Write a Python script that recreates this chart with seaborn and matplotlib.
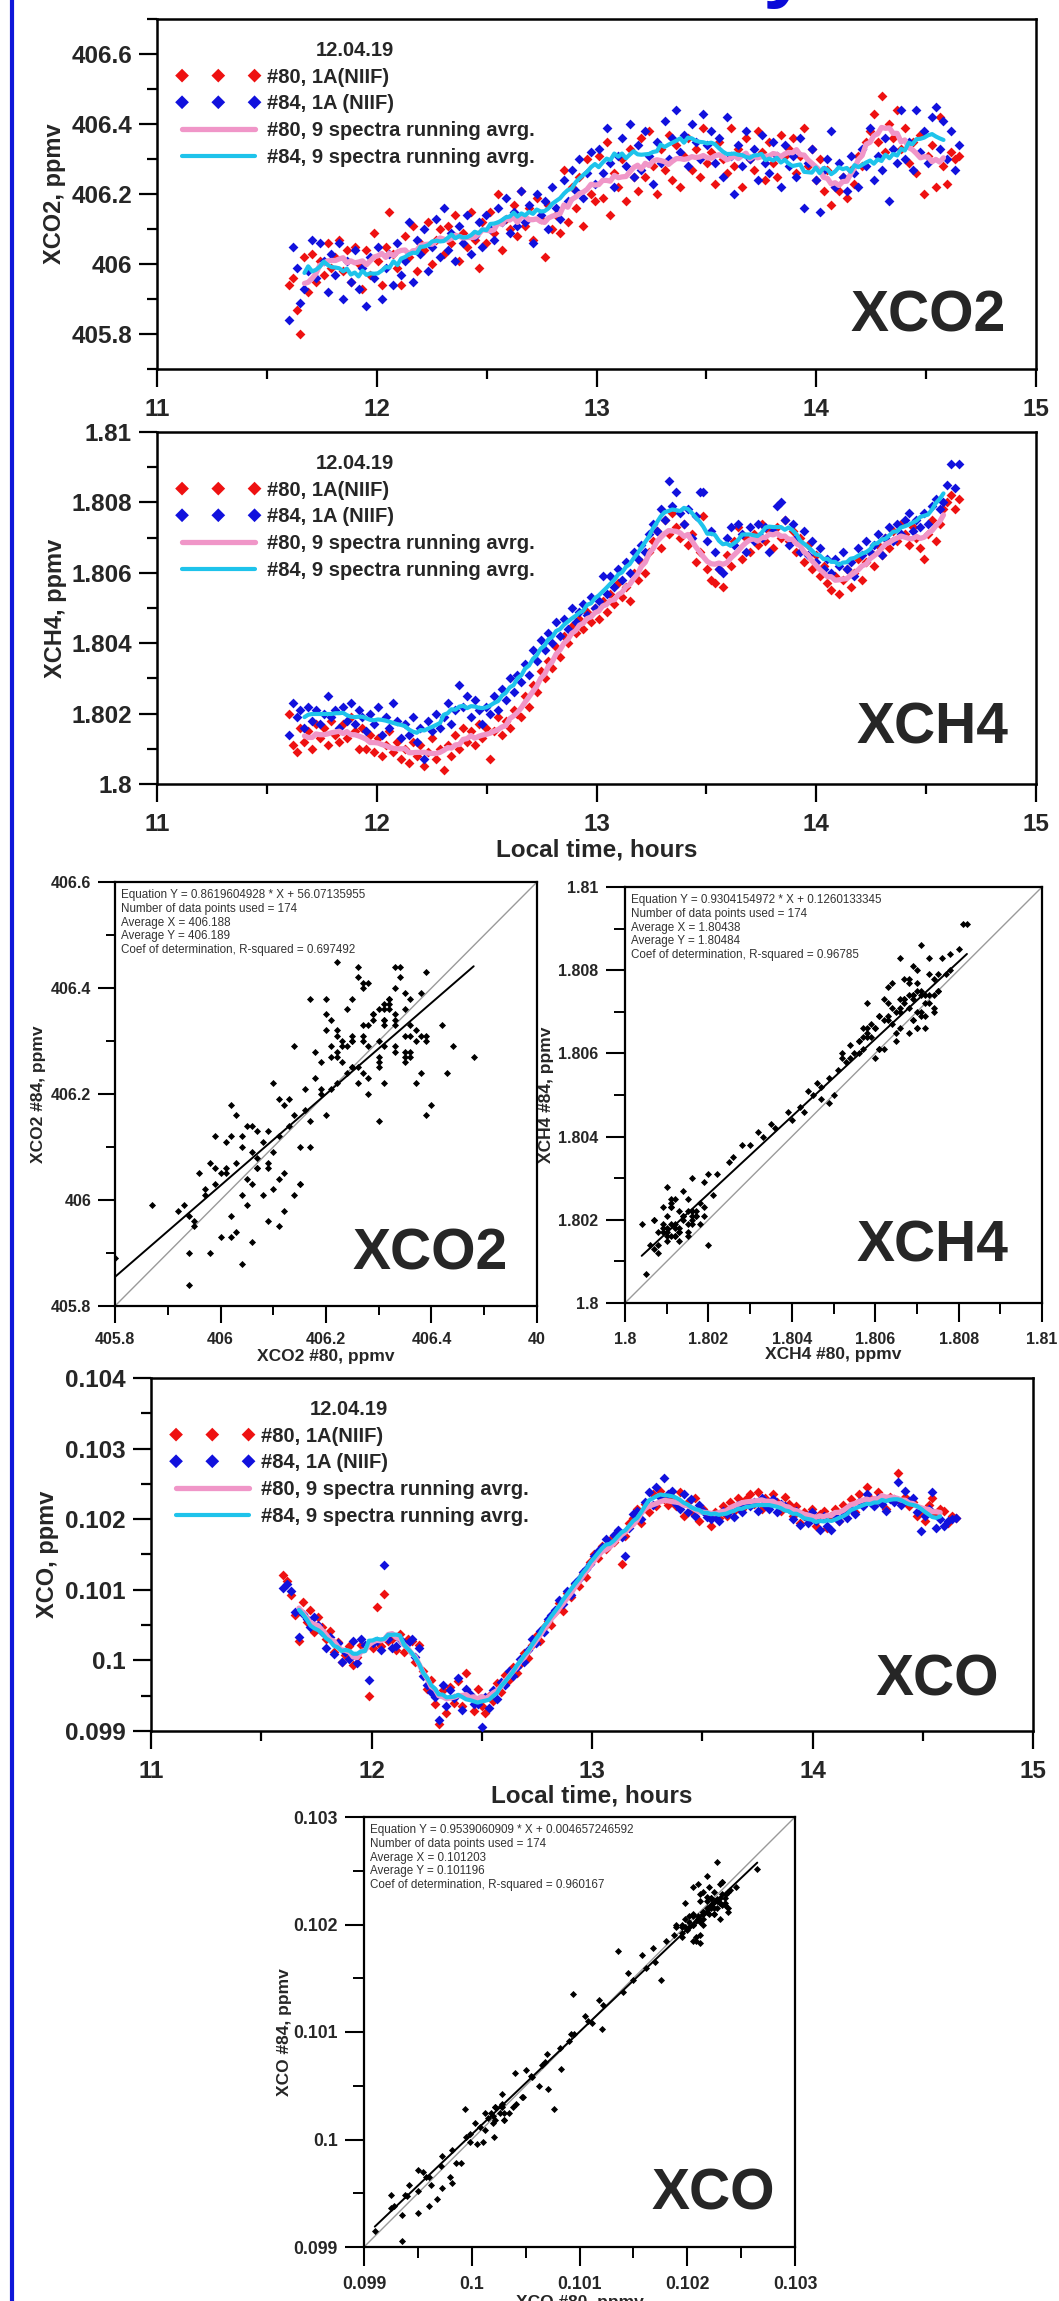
import numpy as np
import pandas as pd
import matplotlib
matplotlib.use("Agg")
import matplotlib.pyplot as plt
from matplotlib.ticker import MultipleLocator
import seaborn as sns

# measurement times (local time, hours), 174 spectra
TIME = [
    11.600, 11.618, 11.635, 11.653, 11.671, 11.688, 11.706, 11.723, 11.741, 11.759,
    11.776, 11.794, 11.812, 11.829, 11.847, 11.864, 11.882, 11.900, 11.917, 11.935,
    11.953, 11.970, 11.988, 12.005, 12.023, 12.041, 12.058, 12.076, 12.094, 12.111,
    12.129, 12.147, 12.164, 12.182, 12.199, 12.217, 12.235, 12.252, 12.270, 12.288,
    12.305, 12.323, 12.340, 12.358, 12.376, 12.393, 12.411, 12.429, 12.446, 12.464,
    12.481, 12.499, 12.517, 12.534, 12.552, 12.570, 12.587, 12.605, 12.623, 12.640,
    12.658, 12.675, 12.693, 12.711, 12.728, 12.746, 12.764, 12.781, 12.799, 12.816,
    12.834, 12.852, 12.869, 12.887, 12.905, 12.922, 12.940, 12.957, 12.975, 12.993,
    13.010, 13.028, 13.046, 13.063, 13.081, 13.099, 13.116, 13.134, 13.151, 13.169,
    13.187, 13.204, 13.222, 13.240, 13.257, 13.275, 13.292, 13.310, 13.328, 13.345,
    13.363, 13.381, 13.398, 13.416, 13.434, 13.451, 13.469, 13.486, 13.504, 13.522,
    13.539, 13.557, 13.575, 13.592, 13.610, 13.627, 13.645, 13.663, 13.680, 13.698,
    13.716, 13.733, 13.751, 13.769, 13.786, 13.804, 13.821, 13.839, 13.857, 13.874,
    13.892, 13.910, 13.927, 13.945, 13.962, 13.980, 13.998, 14.015, 14.033, 14.051,
    14.068, 14.086, 14.103, 14.121, 14.139, 14.156, 14.174, 14.192, 14.209, 14.227,
    14.245, 14.262, 14.280, 14.297, 14.315, 14.333, 14.350, 14.368, 14.386, 14.403,
    14.421, 14.438, 14.456, 14.474, 14.491, 14.509, 14.527, 14.544, 14.562, 14.579,
    14.597, 14.615, 14.632, 14.650,
]

XCO2_80 = [
    405.94, 405.96, 405.87, 405.80, 406.02, 405.92, 406.03, 405.95, 406.01, 405.97,
    406.06, 405.99, 406.02, 406.07, 405.98, 406.04, 405.95, 406.05, 406.00, 405.93,
    406.04, 405.97, 406.09, 406.01, 405.94, 406.05, 406.15, 406.03, 405.99, 405.94,
    406.08, 406.02, 406.11, 405.98, 406.06, 406.04, 406.12, 406.00, 406.07, 406.10,
    406.03, 406.11, 406.06, 406.14, 406.01, 406.09, 406.05, 406.15, 406.07, 405.99,
    406.12, 406.06, 406.15, 406.09, 406.20, 406.04, 406.13, 406.10, 406.17, 406.08,
    406.21, 406.11, 406.16, 406.07, 406.19, 406.13, 406.02, 406.17, 406.10, 406.14,
    406.09, 406.27, 406.12, 406.22, 406.16, 406.25, 406.11, 406.30, 406.20, 406.18,
    406.31, 406.19, 406.35, 406.14, 406.26, 406.22, 406.30, 406.18, 406.33, 406.25,
    406.21, 406.36, 406.25, 406.38, 406.28, 406.20, 406.33, 406.27, 406.37, 406.24,
    406.34, 406.22, 406.31, 406.36, 406.27, 406.33, 406.25, 406.39, 406.29, 406.32,
    406.23, 406.35, 406.30, 406.26, 406.39, 406.28, 406.33, 406.22, 406.36, 406.30,
    406.27, 406.38, 406.32, 406.24, 406.35, 406.29, 406.25, 406.37, 406.31, 406.33,
    406.36, 406.26, 406.31, 406.39, 406.28, 406.33, 406.24, 406.30, 406.21, 406.27,
    406.17, 406.22, 406.21, 406.25, 406.19, 406.27, 406.23, 406.31, 406.28, 406.35,
    406.38, 406.43, 406.35, 406.48, 406.32, 406.40, 406.36, 406.44, 406.33, 406.39,
    406.29, 406.35, 406.26, 406.37, 406.20, 406.31, 406.34, 406.22, 406.42, 406.28,
    406.23, 406.32, 406.30, 406.31,
]

XCO2_84 = [
    405.84, 406.05, 405.99, 405.89, 405.93, 405.98, 406.07, 405.96, 406.06, 406.01,
    405.92, 406.03, 405.97, 406.06, 405.90, 406.01, 405.95, 406.04, 405.93, 405.99,
    405.88, 406.02, 405.96, 406.05, 405.90, 405.99, 406.03, 405.94, 406.06, 405.97,
    406.01, 406.12, 405.95, 406.07, 406.03, 406.10, 405.98, 406.05, 406.13, 406.02,
    406.16, 406.04, 406.09, 406.01, 406.11, 406.06, 406.14, 406.03, 406.08, 406.12,
    406.05, 406.14, 406.10, 406.07, 406.16, 406.12, 406.19, 406.09, 406.15, 406.11,
    406.21, 406.12, 406.17, 406.06, 406.20, 406.14, 406.18, 406.10, 406.22, 406.16,
    406.13, 406.24, 406.18, 406.27, 406.21, 406.30, 406.19, 406.26, 406.32, 406.23,
    406.33, 406.26, 406.39, 406.29, 406.22, 406.31, 406.36, 406.28, 406.40, 406.25,
    406.34, 406.27, 406.38, 406.31, 406.23, 406.35, 406.29, 406.41, 406.30, 406.36,
    406.44, 406.32, 406.37, 406.28, 406.40, 406.35, 406.30, 406.43, 406.34, 406.38,
    406.29, 406.36, 406.25, 406.42, 406.31, 406.20, 406.34, 406.28, 406.38, 406.30,
    406.33, 406.24, 406.37, 406.29, 406.26, 406.35, 406.31, 406.22, 406.34, 406.28,
    406.31, 406.25, 406.36, 406.16, 406.29, 406.33, 406.24, 406.15, 406.27, 406.30,
    406.38, 406.22, 406.29, 406.25, 406.21, 406.31, 406.26, 406.22, 406.33, 406.28,
    406.39, 406.24, 406.31, 406.27, 406.36, 406.18, 406.33, 406.29, 406.44, 406.30,
    406.35, 406.27, 406.44, 406.32, 406.38, 406.29, 406.42, 406.45, 406.33, 406.41,
    406.30, 406.38, 406.27, 406.34,
]

XCH4_80 = [
    1.8020, 1.8011, 1.8009, 1.8016, 1.8012, 1.8015, 1.8010, 1.8017, 1.8013, 1.8016,
    1.8011, 1.8018, 1.8014, 1.8012, 1.8017, 1.8013, 1.8019, 1.8015, 1.8010, 1.8016,
    1.8010, 1.8014, 1.8009, 1.8013, 1.8008, 1.8011, 1.8015, 1.8009, 1.8012, 1.8007,
    1.8010, 1.8006, 1.8012, 1.8008, 1.8011, 1.8005, 1.8009, 1.8013, 1.8007, 1.8010,
    1.8004, 1.8011, 1.8008, 1.8014, 1.8010, 1.8016, 1.8012, 1.8015, 1.8011, 1.8017,
    1.8013, 1.8016, 1.8007, 1.8015, 1.8019, 1.8014, 1.8018, 1.8016, 1.8021, 1.8020,
    1.8019, 1.8025, 1.8022, 1.8028, 1.8026, 1.8032, 1.8030, 1.8035, 1.8033, 1.8039,
    1.8036, 1.8042, 1.8040, 1.8045, 1.8043, 1.8047, 1.8044, 1.8049, 1.8046, 1.8050,
    1.8047, 1.8052, 1.8049, 1.8054, 1.8051, 1.8057, 1.8053, 1.8056, 1.8052, 1.8060,
    1.8058, 1.8063, 1.8060, 1.8066, 1.8069, 1.8072, 1.8067, 1.8075, 1.8071, 1.8077,
    1.8073, 1.8070, 1.8074, 1.8068, 1.8071, 1.8063, 1.8066, 1.8076, 1.8061, 1.8058,
    1.8057, 1.8061, 1.8056, 1.8065, 1.8062, 1.8069, 1.8073, 1.8064, 1.8070, 1.8066,
    1.8071, 1.8068, 1.8074, 1.8069, 1.8072, 1.8067, 1.8073, 1.8070, 1.8075, 1.8069,
    1.8072, 1.8066, 1.8070, 1.8063, 1.8068, 1.8061, 1.8065, 1.8059, 1.8062, 1.8057,
    1.8055, 1.8059, 1.8054, 1.8058, 1.8061, 1.8056, 1.8060, 1.8064, 1.8058, 1.8063,
    1.8066, 1.8062, 1.8068, 1.8065, 1.8070, 1.8067, 1.8072, 1.8069, 1.8074, 1.8071,
    1.8068, 1.8073, 1.8070, 1.8067, 1.8064, 1.8071, 1.8075, 1.8069, 1.8074, 1.8078,
    1.8080, 1.8082, 1.8078, 1.8081,
]

XCH4_84 = [
    1.8014, 1.8023, 1.8019, 1.8021, 1.8016, 1.8022, 1.8018, 1.8021, 1.8017, 1.8020,
    1.8025, 1.8019, 1.8021, 1.8016, 1.8022, 1.8018, 1.8023, 1.8017, 1.8021, 1.8019,
    1.8015, 1.8020, 1.8017, 1.8022, 1.8014, 1.8019, 1.8016, 1.8023, 1.8018, 1.8013,
    1.8017, 1.8014, 1.8019, 1.8012, 1.8016, 1.8007, 1.8018, 1.8015, 1.8020, 1.8016,
    1.8019, 1.8023, 1.8017, 1.8021, 1.8028, 1.8022, 1.8025, 1.8019, 1.8024, 1.8021,
    1.8017, 1.8022, 1.8020, 1.8025, 1.8021, 1.8027, 1.8024, 1.8030, 1.8026, 1.8031,
    1.8029, 1.8034, 1.8031, 1.8038, 1.8035, 1.8041, 1.8038, 1.8043, 1.8040, 1.8046,
    1.8042, 1.8047, 1.8044, 1.8050, 1.8046, 1.8049, 1.8051, 1.8048, 1.8053, 1.8050,
    1.8052, 1.8059, 1.8054, 1.8059, 1.8056, 1.8061, 1.8058, 1.8063, 1.8060, 1.8066,
    1.8064, 1.8068, 1.8066, 1.8071, 1.8074, 1.8072, 1.8078, 1.8075, 1.8086, 1.8079,
    1.8083, 1.8077, 1.8074, 1.8078, 1.8070, 1.8076, 1.8083, 1.8083, 1.8069, 1.8072,
    1.8066, 1.8061, 1.8060, 1.8070, 1.8073, 1.8068, 1.8074, 1.8071, 1.8066, 1.8073,
    1.8069, 1.8074, 1.8070, 1.8073, 1.8066, 1.8072, 1.8079, 1.8080, 1.8075, 1.8068,
    1.8074, 1.8070, 1.8066, 1.8072, 1.8065, 1.8069, 1.8063, 1.8067, 1.8061, 1.8064,
    1.8060, 1.8064, 1.8062, 1.8066, 1.8061, 1.8063, 1.8059, 1.8067, 1.8065, 1.8069,
    1.8066, 1.8068, 1.8071, 1.8065, 1.8070, 1.8073, 1.8069, 1.8074, 1.8071, 1.8075,
    1.8077, 1.8072, 1.8075, 1.8073, 1.8077, 1.8074, 1.8079, 1.8081, 1.8078, 1.8080,
    1.8085, 1.8091, 1.8084, 1.8091,
]

XCO_80 = [
    0.10121, 0.10112, 0.10092, 0.10065, 0.10028, 0.10083, 0.10055, 0.10071, 0.10040, 0.10062,
    0.10048, 0.10030, 0.10041, 0.10012, 0.10026, 0.09998, 0.10008, 0.10021, 0.09994, 0.10005,
    0.10022, 0.10020, 0.09950, 0.10018, 0.10076, 0.10020, 0.10094, 0.10027, 0.10030, 0.10015,
    0.10038, 0.10012, 0.10030, 0.10028, 0.09998, 0.10022, 0.09985, 0.09960, 0.09972, 0.09938,
    0.09910, 0.09958, 0.09925, 0.09962, 0.09940, 0.09971, 0.09935, 0.09982, 0.09950, 0.09928,
    0.09960, 0.09935, 0.09925, 0.09950, 0.09942, 0.09968, 0.09955, 0.09980, 0.09972, 0.09990,
    0.09982, 0.09995, 0.10010, 0.10003, 0.10022, 0.10035, 0.10028, 0.10047, 0.10056, 0.10050,
    0.10068, 0.10082, 0.10070, 0.10095, 0.10090, 0.10108, 0.10105, 0.10122, 0.10118, 0.10140,
    0.10150, 0.10145, 0.10162, 0.10158, 0.10170, 0.10168, 0.10180, 0.10136, 0.10176, 0.10195,
    0.10202, 0.10215, 0.10195, 0.10222, 0.10210, 0.10235, 0.10218, 0.10240, 0.10228, 0.10220,
    0.10232, 0.10218, 0.10238, 0.10205, 0.10225, 0.10212, 0.10230, 0.10198, 0.10215, 0.10208,
    0.10190, 0.10210, 0.10202, 0.10218, 0.10205, 0.10225, 0.10212, 0.10230, 0.10215, 0.10228,
    0.10235, 0.10222, 0.10238, 0.10215, 0.10230, 0.10218, 0.10236, 0.10225, 0.10212, 0.10232,
    0.10222, 0.10205, 0.10218, 0.10195, 0.10210, 0.10200, 0.10215, 0.10190, 0.10208, 0.10212,
    0.10188, 0.10205, 0.10215, 0.10198, 0.10220, 0.10212, 0.10228, 0.10210, 0.10235, 0.10222,
    0.10245, 0.10230, 0.10222, 0.10238, 0.10226, 0.10215, 0.10232, 0.10228, 0.10265, 0.10224,
    0.10232, 0.10218, 0.10225, 0.10205, 0.10212, 0.10198, 0.10220, 0.10230, 0.10208, 0.10215,
    0.10212, 0.10195, 0.10205, 0.10202,
]

XCO_84 = [
    0.10103, 0.10108, 0.10098, 0.10069, 0.10033, 0.10066, 0.10059, 0.10047, 0.10062, 0.10050,
    0.10040, 0.10018, 0.10033, 0.10009, 0.10025, 0.09998, 0.10012, 0.10002, 0.10028, 0.09996,
    0.10030, 0.10022, 0.09972, 0.10025, 0.10028, 0.10015, 0.10135, 0.10031, 0.10018, 0.10020,
    0.10030, 0.10025, 0.10025, 0.10030, 0.10005, 0.10018, 0.09978, 0.09965, 0.09955, 0.09948,
    0.09915, 0.09965, 0.09936, 0.09958, 0.09947, 0.09975, 0.09930, 0.09960, 0.09952, 0.09938,
    0.09938, 0.09906, 0.09948, 0.09932, 0.09958, 0.09945, 0.09970, 0.09965, 0.09985, 0.09978,
    0.09990, 0.10002, 0.09998, 0.10015, 0.10030, 0.10025, 0.10042, 0.10040, 0.10058, 0.10065,
    0.10072, 0.10085, 0.10080, 0.10098, 0.10092, 0.10110, 0.10115, 0.10125, 0.10130, 0.10137,
    0.10148, 0.10155, 0.10160, 0.10172, 0.10165, 0.10178, 0.10185, 0.10175, 0.10148, 0.10188,
    0.10208, 0.10212, 0.10200, 0.10225, 0.10238, 0.10220, 0.10245, 0.10232, 0.10258, 0.10235,
    0.10240, 0.10222, 0.10215, 0.10235, 0.10210, 0.10228, 0.10205, 0.10220, 0.10212, 0.10203,
    0.10200, 0.10205, 0.10198, 0.10212, 0.10208, 0.10215, 0.10203, 0.10220, 0.10210, 0.10222,
    0.10218, 0.10225, 0.10212, 0.10230, 0.10220, 0.10215, 0.10228, 0.10210, 0.10222, 0.10218,
    0.10215, 0.10200, 0.10212, 0.10192, 0.10205, 0.10195, 0.10210, 0.10198, 0.10185, 0.10205,
    0.10190, 0.10185, 0.10205, 0.10198, 0.10210, 0.10202, 0.10215, 0.10208, 0.10225, 0.10218,
    0.10235, 0.10225, 0.10218, 0.10230, 0.10222, 0.10212, 0.10228, 0.10224, 0.10252, 0.10220,
    0.10240, 0.10226, 0.10230, 0.10210, 0.10183, 0.10205, 0.10215, 0.10238, 0.10188, 0.10200,
    0.10190, 0.10198, 0.10200, 0.10202,
]

LEGEND_LABELS = ["#80, 1A(NIIF)", "#84, 1A (NIIF)",
                 "#80, 9 spectra running avrg.", "#84, 9 spectra running avrg."]
DATE = "12.04.19"

TIME_TICKS = [11, 12, 13, 14, 15]
XCO2_TICKS = [405.8, 406.0, 406.2, 406.4, 406.6]
XCO2_TICKLABELS = ["405.8", "406", "406.2", "406.4", "406.6"]
XCH4_TICKS = [1.800, 1.802, 1.804, 1.806, 1.808, 1.810]
XCH4_TICKLABELS = ["1.8", "1.802", "1.804", "1.806", "1.808", "1.81"]
XCO_TICKS = [0.099, 0.100, 0.101, 0.102, 0.103, 0.104]
XCO_TICKLABELS = ["0.099", "0.1", "0.101", "0.102", "0.103", "0.104"]

# regression results printed on the correlation plots
FIT_XCO2 = (0.8619604928, 56.07135955)
FIT_XCH4 = (0.9304154972, 0.1260133345)
FIT_XCO = (0.9539060909, 0.004657246592)
STATS_XCO2 = ["Equation Y = 0.8619604928 * X + 56.07135955", "Number of data points used = 174",
              "Average X = 406.188", "Average Y = 406.189",
              "Coef of determination, R-squared = 0.697492"]
STATS_XCH4 = ["Equation Y = 0.9304154972 * X + 0.1260133345", "Number of data points used = 174",
              "Average X = 1.80438", "Average Y = 1.80484",
              "Coef of determination, R-squared = 0.96785"]
STATS_XCO = ["Equation Y = 0.9539060909 * X + 0.004657246592", "Number of data points used = 174",
             "Average X = 0.101203", "Average Y = 0.101196",
             "Coef of determination, R-squared = 0.960167"]

RED, BLUE = "#ee1111", "#1111dd"
PINK, CYAN = "#f096c8", "#1ec3eb"

W, H = 1059, 2301

sns.set_style("ticks")
plt.rcParams["font.family"] = ["Liberation Sans", "DejaVu Sans"]
plt.rcParams["axes.linewidth"] = 1.6

fig = plt.figure(figsize=(W / 100, H / 100), dpi=100)
fig.patch.set_facecolor("white")


def box(left, top, right, bottom):
    return [left / W, 1 - bottom / H, (right - left) / W, (bottom - top) / H]


def ftext(px, py, s, **kw):
    fig.text(px / W, 1 - py / H, s, **kw)


def frame(ax, width):
    ax.tick_params(top=False, right=False, which="both")
    for s in ax.spines.values():
        s.set_visible(True)
        s.set_linewidth(width)
        s.set_color("black")


def time_panel(rect_px, v80, v84, ylim, yticks, yticklabels, yminor, ylabel, ylabel_x, tag,
               xlabel=None):
    left, top, right, bottom = rect_px
    aw, ah = right - left, bottom - top
    ax = fig.add_axes(box(*rect_px))
    d = pd.DataFrame({"t": TIME, "a": v80, "b": v84})
    d["ma"] = d["a"].rolling(9, center=True).mean()
    d["mb"] = d["b"].rolling(9, center=True).mean()
    m = d.dropna()
    sns.scatterplot(data=d, x="t", y="a", marker="D", color=RED, s=25, linewidth=0,
                    ax=ax, label=LEGEND_LABELS[0], zorder=2)
    sns.scatterplot(data=d, x="t", y="b", marker="D", color=BLUE, s=25, linewidth=0,
                    ax=ax, label=LEGEND_LABELS[1], zorder=3)
    sns.lineplot(data=m, x="t", y="ma", color=PINK, lw=3.8, ax=ax,
                 label=LEGEND_LABELS[2], zorder=4)
    sns.lineplot(data=m, x="t", y="mb", color=CYAN, lw=3.0, ax=ax,
                 label=LEGEND_LABELS[3], zorder=5)
    ax.set_xlim(11, 15)
    ax.set_ylim(*ylim)
    ax.set_xticks(TIME_TICKS)
    ax.set_xticklabels([str(v) for v in TIME_TICKS], fontsize=17.5, fontweight="bold")
    ax.set_yticks(yticks)
    ax.set_yticklabels(yticklabels, fontsize=17.5, fontweight="bold")
    ax.xaxis.set_minor_locator(MultipleLocator(0.5))
    ax.yaxis.set_minor_locator(MultipleLocator(yminor))
    ax.tick_params(which="major", direction="out", length=13, width=1.6, color="black")
    ax.tick_params(which="minor", direction="out", length=7, width=1.6, color="black")
    ax.tick_params(axis="x", which="major", pad=8)
    ax.tick_params(axis="y", which="major", pad=5)
    frame(ax, 1.8)
    ax.set_ylabel(ylabel, fontsize=17, fontweight="bold")
    ax.yaxis.set_label_coords((ylabel_x + 10 - left) / aw, 0.5)
    if xlabel:
        ax.set_xlabel(xlabel, fontsize=17.5, fontweight="bold")
        ax.xaxis.set_label_coords(0.5, -54 / ah)
    else:
        ax.set_xlabel("")
    h, l = ax.get_legend_handles_labels()
    ax.legend(h, l, loc="upper left", bbox_to_anchor=(19 / aw, 1 - 22 / ah),
              frameon=False, title=DATE,
              title_fontproperties={"weight": "bold", "size": 14.5},
              prop={"weight": "bold", "size": 14.5}, numpoints=3, scatterpoints=3,
              scatteryoffsets=[0.5], markerscale=1.4, handlelength=4.2,
              handletextpad=0.3, labelspacing=0.38, borderpad=0, borderaxespad=0)
    ftext(tag[1], tag[2], tag[0], fontsize=41, fontweight="bold", ha="center", va="center")
    return ax


def corr_panel(rect_px, xv, yv, lim, ticks, labels, minor, fit, stats, xlabel, ylabel, tag,
               tick_size, mlen, ylabel_x, xlabel_y, xticklabels=None):
    left, top, right, bottom = rect_px
    aw, ah = right - left, bottom - top
    ax = fig.add_axes(box(*rect_px))
    ax.plot(lim, lim, color="#9a9a9a", lw=1.0, zorder=1)
    sns.scatterplot(x=xv, y=yv, marker="D", color="black", s=13, linewidth=0, ax=ax, zorder=3)
    xs = np.array([min(xv), max(xv)])
    sns.lineplot(x=xs, y=fit[0] * xs + fit[1], color="black", lw=1.4, ax=ax, zorder=2)
    ax.set_xlim(*lim)
    ax.set_ylim(*lim)
    ax.set_xticks(ticks)
    ax.set_yticks(ticks)
    ax.set_xticklabels(xticklabels or labels, fontsize=tick_size, fontweight="bold")
    ax.set_yticklabels(labels, fontsize=tick_size, fontweight="bold")
    ax.xaxis.set_minor_locator(MultipleLocator(minor))
    ax.yaxis.set_minor_locator(MultipleLocator(minor))
    ax.tick_params(which="major", direction="out", length=mlen, width=1.5, color="black")
    ax.tick_params(which="minor", direction="out", length=mlen * 0.55, width=1.4, color="black")
    ax.tick_params(axis="x", which="major", pad=7)
    ax.tick_params(axis="y", which="major", pad=5)
    frame(ax, 1.6)
    ax.set_xlabel(xlabel, fontsize=12.5, fontweight="bold")
    ax.set_ylabel(ylabel, fontsize=12.5, fontweight="bold")
    ax.yaxis.set_label_coords((ylabel_x + 8 - left) / aw, 0.5)
    ax.xaxis.set_label_coords(0.5, -(xlabel_y - 8 - bottom) / ah)
    ax.text(6 / aw, 1 - 7 / ah, "\n".join(stats), transform=ax.transAxes, ha="left", va="top",
            fontsize=8.4, color="#333333")
    ftext(tag[1], tag[2], tag[0], fontsize=41, fontweight="bold", ha="center", va="center")
    return ax


time_panel((157, 19, 1036, 369), XCO2_80, XCO2_84, (405.7, 406.7), XCO2_TICKS,
           XCO2_TICKLABELS, 0.1, "XCO2, ppmv", 56, ("XCO2", 928, 316))
time_panel((157, 432, 1036, 784), XCH4_80, XCH4_84, (1.8, 1.81), XCH4_TICKS,
           XCH4_TICKLABELS, 0.001, "XCH4, ppmv", 57, ("XCH4", 932, 729),
           xlabel="Local time, hours")

corr_panel((115, 882, 537, 1306), XCO2_80, XCO2_84, (405.8, 406.6), XCO2_TICKS,
           XCO2_TICKLABELS, 0.1, FIT_XCO2, STATS_XCO2, "XCO2 #80, ppmv", "XCO2 #84, ppmv",
           ("XCO2", 430, 1255), 11.5, 12, 38, 1357,
           xticklabels=["405.8", "406", "406.2", "406.4", "40"])
corr_panel((625, 887, 1042, 1303), XCH4_80, XCH4_84, (1.8, 1.81), XCH4_TICKS,
           XCH4_TICKLABELS, 0.001, FIT_XCH4, STATS_XCH4, "XCH4 #80, ppmv", "XCH4 #84, ppmv",
           ("XCH4", 932, 1247), 11.5, 14, 546, 1355)

time_panel((151, 1378, 1033, 1731), XCO_80, XCO_84, (0.099, 0.104), XCO_TICKS,
           XCO_TICKLABELS, 0.0005, "XCO, ppmv", 49, ("XCO", 937, 1680),
           xlabel="Local time, hours")

corr_panel((364, 1817, 795, 2247), XCO_80, XCO_84, (0.099, 0.103), XCO_TICKS[:5],
           XCO_TICKLABELS[:5], 0.0005, FIT_XCO, STATS_XCO, "XCO #80, ppmv", "XCO #84, ppmv",
           ("XCO", 713, 2195), 12.7, 14, 284, 2303)

# blue frame line on the left and the tail of the page title above
fig.add_artist(plt.Line2D([12 / W, 12 / W], [0, 1], color="#0f17d9", lw=3))
ftext(785, -8, "y", fontsize=60, fontweight="bold", color="#0a0ad8", ha="center", va="baseline")

fig.savefig("out.png", dpi=100)
